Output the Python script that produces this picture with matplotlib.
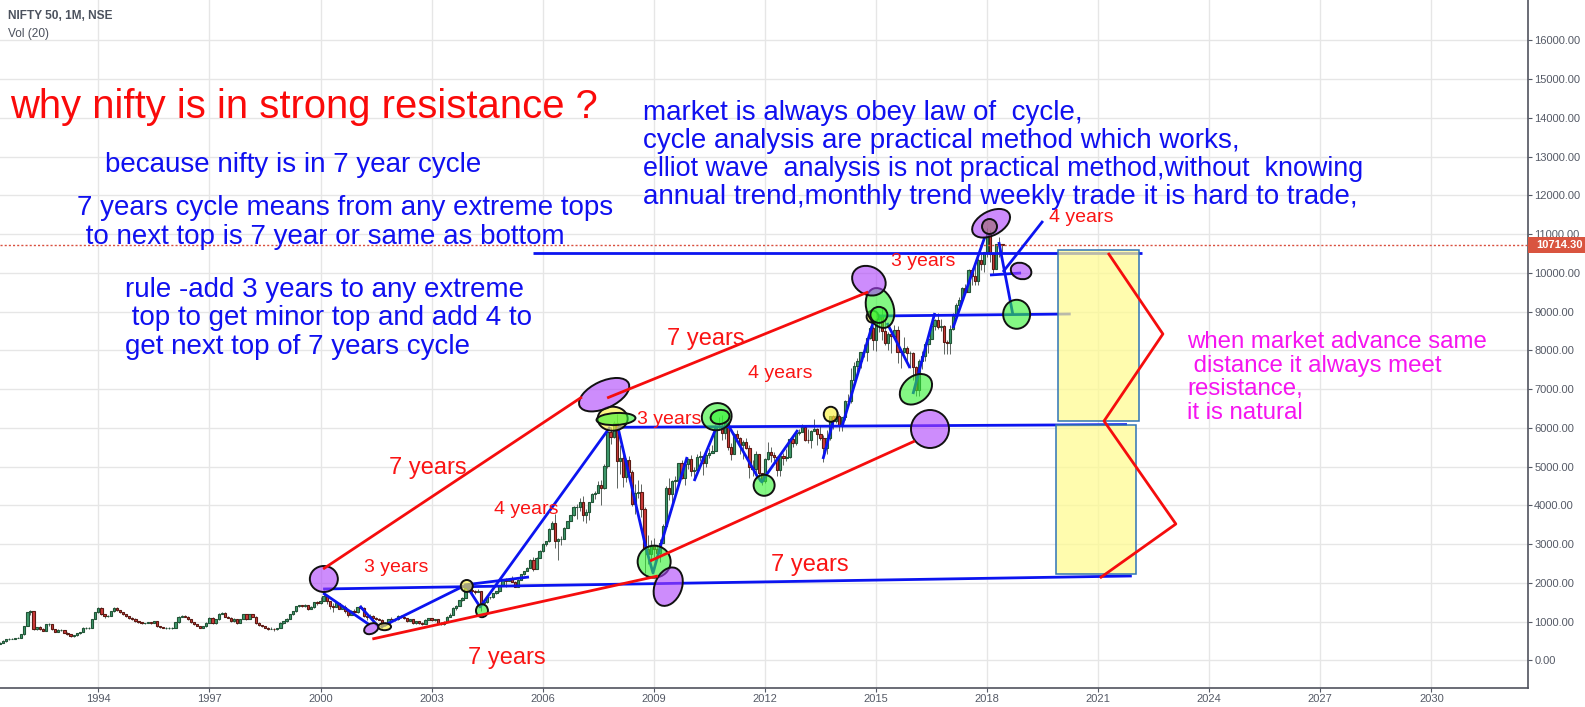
import numpy as np
import matplotlib
matplotlib.use("Agg")
import matplotlib.pyplot as plt
from matplotlib.collections import EllipseCollection
from matplotlib.patches import Rectangle

plt.rcParams['font.family'] = ['Liberation Sans', 'DejaVu Sans']

W, H = 1585, 707

# monthly candles, first bar is May 1991
start_year = 1991 + 4 / 12
first_open = 430
closes = [
    460, 504, 547, 564, 564, 581, 590, 675,
    890, 1250, 1270, 800, 860, 820, 760, 930, 950, 800, 735, 785,
    785, 720, 675, 630, 650, 700, 735, 845, 845, 845, 1060, 1250,
    1360, 1190, 1145, 1160, 1270, 1360, 1300, 1250, 1190, 1150, 1100, 1075,
    1015, 990, 955, 975, 990, 975, 1015, 890, 860, 845, 845, 845,
    845, 990, 1130, 1160, 1130, 1075, 990, 930, 890, 845, 890, 975,
    1100, 955, 1060, 1205, 1230, 1130, 1100, 1015, 1060, 975, 1075, 1190,
    1080, 1190, 1130, 975, 905, 890, 850, 820, 820, 800, 840, 975,
    1015, 1075, 1190, 1270, 1400, 1420, 1400, 1430, 1330, 1370, 1500, 1480,
    1546, 1655, 1528, 1406, 1380, 1471, 1333, 1382, 1271, 1173, 1269, 1263,
    1371, 1352, 1148, 1126, 1143, 1107, 1073, 1054, 913, 971, 1067, 1059,
    1075, 1142, 1130, 1084, 1028, 1058, 961, 1011, 963, 951, 1050, 1094,
    1042, 1064, 978, 934, 1006, 1134, 1185, 1356, 1417, 1556, 1615, 1880,
    1810, 1800, 1772, 1796, 1484, 1505, 1632, 1632, 1746, 1786, 1959, 2081,
    2058, 2103, 2036, 1902, 2087, 2221, 2312, 2385, 2601, 2370, 2652, 2837,
    3001, 3075, 3403, 3558, 3072, 3128, 3143, 3414, 3588, 3744, 3955, 3966,
    4083, 3745, 3822, 4087, 4296, 4318, 4528, 4464, 5021, 5900, 5762, 6139,
    5137, 5223, 4735, 5165, 4870, 4040, 4332, 4360, 3921, 2885, 2755, 2959,
    2874, 2763, 3021, 3474, 4449, 4291, 4636, 4662, 5084, 4712, 5063, 5201,
    4882, 4922, 5249, 5278, 5087, 5313, 5367, 5402, 6030, 6018, 5862, 6134,
    5506, 5333, 5833, 5749, 5560, 5647, 5482, 5001, 4943, 5326, 4832, 4624,
    5199, 5385, 5296, 5248, 4924, 5279, 5229, 5259, 5703, 5619, 5879, 5905,
    6035, 5693, 5682, 5930, 5986, 5842, 5742, 5471, 5735, 6299, 6176, 6304,
    6089, 6277, 6704, 6696, 7230, 7611, 7721, 7954, 7965, 8322, 8588, 8282,
    8808, 8902, 8491, 8182, 8434, 8369, 8533, 7971, 7949, 8066, 7935, 7946,
    7564, 6987, 7738, 7850, 8160, 8288, 8639, 8786, 8611, 8626, 8224, 8186,
    8561, 8880, 9174, 9304, 9621, 9521, 10077, 9918, 9789, 10335, 10227, 10531,
    11028, 10493, 10114, 10739, 10736, 10714,
]
highs = [
    470, 520, 560, 575, 575, 590, 600, 690,
    900, 1260, 1300, 1280, 870, 880, 830, 940, 960, 950, 810, 800,
    800, 790, 730, 680, 660, 710, 745, 860, 870, 860, 1070, 1260,
    1380, 1370, 1210, 1170, 1280, 1370, 1370, 1310, 1260, 1200, 1160, 1110,
    1090, 1030, 1000, 980, 1000, 1000, 1025, 1020, 900, 870, 860, 860,
    860, 1000, 1140, 1180, 1170, 1140, 1080, 1000, 940, 900, 900, 985,
    1110, 1110, 1070, 1220, 1250, 1240, 1140, 1120, 1090, 1070, 985, 1200,
    1210, 1200, 1200, 1140, 985, 915, 900, 860, 860, 830, 850, 990,
    1030, 1090, 1200, 1290, 1410, 1430, 1440, 1450, 1440, 1400, 1510, 1540,
    1640, 1820, 1680, 1530, 1480, 1510, 1480, 1400, 1440, 1300, 1300, 1330,
    1380, 1440, 1390, 1160, 1190, 1170, 1110, 1090, 1060, 990, 1070, 1110,
    1090, 1180, 1170, 1140, 1090, 1070, 1060, 1020, 1030, 990, 1060, 1100,
    1100, 1080, 1070, 990, 1010, 1140, 1220, 1370, 1430, 1560, 1630, 1890,
    2010, 1890, 1830, 1850, 1800, 1530, 1640, 1650, 1750, 1800, 1960, 2090,
    2120, 2120, 2180, 2040, 2100, 2240, 2320, 2420, 2620, 2670, 2660, 2850,
    3020, 3090, 3430, 3600, 3780, 3160, 3210, 3440, 3610, 3760, 3990, 4030,
    4190, 4250, 3900, 4100, 4310, 4370, 4630, 4650, 5060, 5920, 6020, 6190,
    6360, 5550, 5300, 5230, 5290, 4910, 4550, 4650, 4560, 3950, 3240, 3120,
    3150, 2990, 3130, 3520, 4510, 4700, 4670, 4750, 5090, 5180, 5140, 5230,
    5310, 4990, 5330, 5400, 5280, 5370, 5480, 5550, 6070, 6290, 6340, 6150,
    6180, 5600, 5870, 5950, 5780, 5700, 5740, 5550, 5170, 5400, 5330, 4850,
    5220, 5630, 5500, 5380, 5280, 5290, 5350, 5450, 5740, 5820, 5890, 5970,
    6110, 6050, 5970, 5960, 6230, 6010, 6090, 5810, 5950, 6310, 6330, 6420,
    6360, 6280, 6730, 6870, 7560, 7700, 7810, 7970, 8180, 8330, 8620, 8630,
    8990, 8940, 9120, 8840, 8490, 8470, 8660, 8620, 8050, 8340, 8120, 7980,
    7970, 7610, 7780, 7990, 8210, 8310, 8670, 8820, 8970, 8810, 8670, 8270,
    8670, 8980, 9220, 9370, 9650, 9710, 10110, 10140, 10180, 10380, 10490, 10550,
    11170, 11120, 10530, 10760, 10930, 10720,
]
lows = [
    420, 440, 470, 530, 545, 555, 570, 590,
    670, 880, 1180, 790, 780, 790, 750, 750, 900, 790, 730, 760,
    760, 700, 650, 600, 610, 640, 690, 730, 820, 820, 840, 1060,
    1230, 1170, 1100, 1120, 1150, 1260, 1280, 1230, 1170, 1130, 1080, 1050,
    1000, 970, 930, 950, 960, 950, 970, 870, 840, 830, 820, 820,
    820, 840, 980, 1120, 1110, 1050, 970, 910, 880, 830, 830, 870,
    960, 940, 930, 1050, 1190, 1110, 1090, 1000, 1000, 950, 960, 1060,
    1050, 1070, 1120, 950, 880, 860, 840, 790, 800, 770, 790, 830,
    950, 1000, 1070, 1170, 1260, 1390, 1380, 1390, 1300, 1320, 1360, 1440,
    1450, 1530, 1470, 1330, 1260, 1380, 1320, 1320, 1230, 1130, 1170, 1220,
    1230, 1340, 1110, 1050, 1100, 1080, 1050, 1040, 850, 900, 960, 1050,
    1020, 1050, 1100, 1070, 1000, 1030, 930, 950, 950, 920, 950, 1040,
    1030, 1030, 960, 920, 920, 1000, 1120, 1180, 1300, 1420, 1530, 1620,
    1760, 1730, 1710, 1770, 1290, 1430, 1490, 1580, 1620, 1720, 1780, 1960,
    1900, 2040, 2030, 1890, 1890, 2090, 2210, 2300, 2400, 2310, 2370, 2650,
    2800, 2950, 3060, 3400, 2900, 2600, 2980, 3140, 3410, 3590, 3740, 3660,
    3850, 3610, 3550, 3620, 4090, 4170, 4310, 4000, 4430, 4960, 5590, 5740,
    4450, 4800, 4470, 4610, 4800, 3990, 3790, 4200, 3700, 2250, 2500, 2570,
    2680, 2730, 2540, 3020, 3470, 4150, 3920, 4350, 4570, 4690, 4540, 4940,
    4770, 4680, 4930, 5160, 4790, 5000, 5230, 5350, 5400, 5940, 5690, 5720,
    5420, 5180, 5350, 5690, 5330, 5200, 5450, 4720, 4760, 4730, 4640, 4530,
    4590, 5180, 5130, 5150, 4770, 4770, 5040, 5160, 5220, 5520, 5550, 5820,
    5890, 5670, 5600, 5480, 5910, 5570, 5680, 5120, 5320, 5700, 5970, 6130,
    5930, 5930, 6210, 6650, 6640, 7240, 7420, 7540, 7840, 7720, 8290, 8000,
    7980, 8470, 8270, 8140, 8000, 7940, 8320, 7670, 7540, 7930, 7710, 7550,
    7240, 6830, 6830, 7520, 7720, 7930, 8290, 8520, 8560, 8510, 7920, 7900,
    7900, 8540, 8860, 9080, 9270, 9450, 9540, 9690, 9690, 9690, 10090, 10030,
    10400, 10280, 9950, 10110, 10420, 10550,
]

last_price = 10714.30
x_ticks = list(range(1994, 2031, 3))
y_ticks = list(range(0, 16001, 1000))

# hand drawn trend lines, (year, price)
red_lines = [
    [(2000.07, 2361), (2007.06, 6800)],
    [(2007.74, 6774), (2014.79, 9510)],
    [(2001.40, 555), (2009.11, 2181)],
    [(2008.90, 2568), (2016.05, 5664)],
    [(2021.27, 10516), (2022.75, 8426), (2021.16, 6180), (2023.10, 3523), (2021.05, 2129)],
]
blue_lines = [
    [(2000.07, 1845), (2021.91, 2181)],
    [(2000.07, 1742), (2001.33, 916)],
    [(2001.06, 1406), (2001.57, 872)],
    [(2001.62, 857), (2003.87, 1923)],
    [(2003.93, 1948), (2004.31, 1381), (2007.82, 6026)],
    [(2003.87, 1948), (2005.63, 2155)],
    [(2008.03, 6018), (2021.78, 6088)],
    [(2008.03, 6026), (2008.79, 2903), (2008.98, 2258), (2009.19, 2981), (2009.90, 5252)],
    [(2010.09, 4632), (2010.70, 6034)],
    [(2010.98, 6129), (2011.79, 4761), (2011.92, 4606), (2012.00, 4735), (2012.89, 5948)],
    [(2013.57, 5200), (2013.84, 6155)],
    [(2014.08, 6026), (2014.92, 8709)],
    [(2015.30, 8709), (2015.92, 7548)],
    [(2015.00, 8890), (2020.26, 8942)],
    [(2016.00, 6877), (2016.59, 8968)],
    [(2017.08, 8581), (2017.94, 10929)],
    [(2005.74, 10516), (2022.18, 10516)],
    [(2018.32, 10800), (2018.70, 8916)],
    [(2018.43, 10026), (2019.51, 11342)],
    [(2018.08, 9948), (2018.92, 10000)],
]

# boxes: year from, year to, price from, price to
box_year0 = [2019.92, 2019.85]
box_year1 = [2022.10, 2022.02]
box_low = [6180, 2232]
box_high = [10593, 6088]

purple_year = [2000.09, 2001.37, 2007.66, 2009.39, 2014.81, 2016.46, 2018.11, 2018.92]
purple_price = [2103, 821, 6859, 1905, 9801, 5974, 11283, 10052]
purple_w = [26, 15, 54, 40, 35, 38, 41, 21]
purple_h = [28, 10, 27, 27, 28, 38, 24, 16]
purple_angle = [90, 25, 25, 68, -28, 0, 28, -18]

green_year = [2004.36, 2007.98, 2009.01, 2010.70, 2010.79, 2011.98, 2015.11, 2015.08, 2016.08, 2018.80]
green_price = [1285, 6232, 2550, 6292, 6284, 4521, 9097, 8919, 6999, 8934]
green_w = [12, 39, 33, 30, 19, 21, 41, 17, 36, 27]
green_h = [13, 12, 32, 27, 14, 21, 27, 16, 26, 29]
green_angle = [0, 3, 0, 15, 10, 0, -72, 0, 40, 0]

yellow_year = [2001.73, 2003.95, 2007.89, 2013.78, 2014.91]
yellow_price = [872, 1923, 6240, 6354, 8872]
yellow_w = [13, 12, 30, 14, 12]
yellow_h = [7, 12, 24, 15, 12]
yellow_angle = [0, 0, 0, 0, 0]

inner_year = [2018.05]
inner_price = [11213]
inner_w = [15]
inner_h = [15]
inner_angle = [0]

fig = plt.figure(figsize=(W / 100, H / 100), dpi=100)
ax = fig.add_axes([0, 19 / H, 1528 / W, 1 - 19 / H])
ax.set_xlim(1991.344, 2032.61)
ax.set_ylim(-710, 17045)

ax.set_xticks(x_ticks)
ax.set_yticks(y_ticks)
ax.set_yticklabels([f"{t:.2f}" for t in y_ticks])
ax.yaxis.tick_right()
ax.grid(True, color="#e6e6e6", lw=1.0)
ax.set_axisbelow(True)
ax.tick_params(axis="y", colors="#555a66", labelsize=8, length=3, width=0.8, pad=1.5)
ax.tick_params(axis="x", colors="#555a66", labelsize=8, length=3, width=0.8, pad=1)
for s in ["left", "top"]:
    ax.spines[s].set_visible(False)
for s in ["right", "bottom"]:
    ax.spines[s].set_color("#50535e")
    ax.spines[s].set_linewidth(1.2)

closes_a = np.array(closes, dtype=float)
opens_a = np.concatenate([[first_open], closes_a[:-1]])
highs_a = np.maximum(np.array(highs, dtype=float), np.maximum(opens_a, closes_a))
lows_a = np.minimum(np.array(lows, dtype=float), np.minimum(opens_a, closes_a))
dates = start_year + np.arange(len(closes_a)) / 12
up = closes_a >= opens_a

ax.vlines(dates, lows_a, highs_a, color="#5d6460", lw=0.7, zorder=2)
ax.bar(dates[up], (closes_a - opens_a)[up], bottom=opens_a[up], width=0.062,
       color="#3f9a6c", edgecolor="#225437", lw=0.8, zorder=3)
ax.bar(dates[~up], (opens_a - closes_a)[~up], bottom=closes_a[~up], width=0.062,
       color="#cf3b3b", edgecolor="#5b1a13", lw=0.8, zorder=3)

ax.axhline(last_price, color="#d9503f", lw=1, ls=(0, (1.5, 1.5)), zorder=4)

for line in blue_lines:
    xs, ys = zip(*line)
    ax.plot(xs, ys, color="#0b14f0", lw=2, solid_capstyle="butt", zorder=5)

for y0, y1, lo, hi in zip(box_year0, box_year1, box_low, box_high):
    ax.add_patch(Rectangle((y0, lo), y1 - y0, hi - lo, facecolor="#fffb8f", alpha=0.72,
                           edgecolor="none", zorder=6))
    ax.add_patch(Rectangle((y0, lo), y1 - y0, hi - lo, fill=False,
                           edgecolor="#2f74b5", lw=1.1, zorder=6))


def ovals(years, prices, ws, hs, angles, color):
    coll = EllipseCollection(ws, hs, angles, units="dots",
                             offsets=np.column_stack([years, prices]),
                             offset_transform=ax.transData,
                             facecolors=color, edgecolors="#111111", linewidths=1.4, zorder=7)
    ax.add_collection(coll)


ovals(yellow_year, yellow_price, yellow_w, yellow_h, yellow_angle, (0.98, 0.95, 0.25, 0.65))
ovals(green_year, green_price, green_w, green_h, green_angle, (0.2, 0.95, 0.2, 0.6))
ovals(purple_year, purple_price, purple_w, purple_h, purple_angle, (0.68, 0.25, 0.98, 0.6))
ovals(inner_year, inner_price, inner_w, inner_h, inner_angle, (0.6, 0.4, 0.4, 0.6))

for line in red_lines:
    xs, ys = zip(*line)
    ax.plot(xs, ys, color="#f50d0d", lw=2, solid_capstyle="butt", zorder=8)


def label(x, y, s, color, size):
    fig.text(x / W, 1 - y / H, s, color=color, fontsize=size, va="center", ha="left", zorder=10)


label(8, 16, "NIFTY 50, 1M, NSE", "#4c525e", 8.6)
fig.texts[-1].set_fontweight("bold")
label(8, 34, "Vol (20)", "#4c525e", 8.6)

# price tag on the axis
fig.add_artist(Rectangle((1528 / W, 1 - 253 / H), 57 / W, 16 / H, facecolor="#d9543f",
                         edgecolor="none", transform=fig.transFigure, zorder=9))
label(1536, 245, f"{last_price:.2f}", "white", 8)
fig.texts[-1].set_fontweight("bold")

label(10, 107, "why nifty is in strong resistance ?", "#fa0a0a", 28.8)

blue = "#1010f0"
label(105, 165, "because nifty is in 7 year cycle", blue, 20)
label(77, 208, "7 years cycle means from any extreme tops", blue, 20)
label(78, 237, " to next top is 7 year or same as bottom", blue, 20)
label(125, 290, "rule -add 3 years to any extreme", blue, 20)
label(124, 318, " top to get minor top and add 4 to", blue, 20)
label(125, 347, "get next top of 7 years cycle", blue, 20)
label(643, 113, "market is always obey law of  cycle,", blue, 20)
label(643, 141, "cycle analysis are practical method which works,", blue, 20)
label(643, 169, "elliot wave  analysis is not practical method,without  knowing", blue, 19.4)
label(643, 197, "annual trend,monthly trend weekly trade it is hard to trade,", blue, 20)

red = "#fa1414"
label(389, 468, "7 years", red, 17)
label(364, 567, "3 years", red, 14)
label(468, 658, "7 years", red, 17)
label(494, 509, "4 years", red, 14)
label(667, 339, "7 years", red, 17)
label(637, 419, "3 years", red, 14)
label(748, 373, "4 years", red, 14)
label(771, 565, "7 years", red, 17)
label(891, 262, "3 years", red, 14)
label(1049, 217, "4 years", red, 14)

mag = "#f514f0"
label(1187, 342, "when market advance same", mag, 17.3)
label(1187, 366, " distance it always meet", mag, 17.3)
label(1187, 389, "resistance,", mag, 17.3)
label(1187, 413, "it is natural", mag, 17.3)

fig.savefig("out.png", dpi=100)
